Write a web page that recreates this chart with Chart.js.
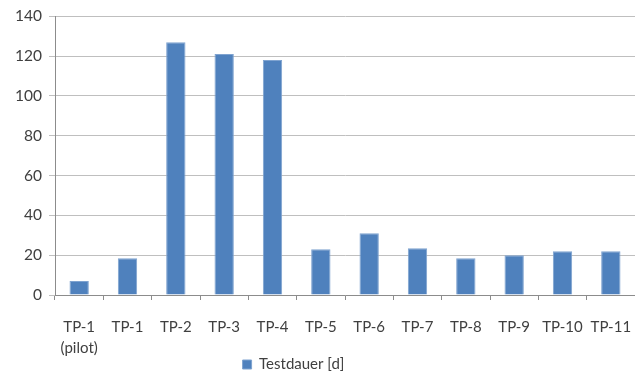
<!DOCTYPE html>
<html>
<head>
<meta charset="utf-8">
<script src="https://cdn.jsdelivr.net/npm/chart.js@4/dist/chart.umd.min.js"></script>
<style>
  html, body { margin: 0; padding: 0; background: #fff; }
  #wrap { width: 635px; height: 374px; }
</style>
</head>
<body>
<div id="wrap"><canvas id="testChart"></canvas></div>
<script>
const categories = [['TP-1', '(pilot)'], 'TP-1', 'TP-2', 'TP-3', 'TP-4', 'TP-5', 'TP-6', 'TP-7', 'TP-8', 'TP-9', 'TP-10', 'TP-11'];
const testdauer = [7, 18.5, 127, 121, 118, 23, 31, 23.5, 18.5, 20, 22, 22];
const seriesName = 'Testdauer [d]';
const yTicks = [0, 20, 40, 60, 80, 100, 120, 140];

const textColor = '#404040';
const fontFamily = 'Lato, "Open Sans", sans-serif';

// legend sits lower and a bit left of where Chart.js puts it,
// and the two-line label needs room below the axis box
const nudgeLayout = {
    id: 'nudgeLayout',
    afterLayout(chart) {
        chart.scales.x.bottom += 14;
        chart.scales.x.height += 14;
        chart.legend.top += 8;
        chart.legend.bottom += 8;
        chart.legend.left -= 24;
        chart.legend.right -= 24;
    }
};

const ctx = document.getElementById('testChart').getContext('2d');
new Chart(ctx, {
    type: 'bar',
    data: {
        labels: categories,
        datasets: [{
            label: seriesName,
            data: testdauer,
            backgroundColor: '#4F81BD',
            borderColor: '#7FA3D0',
            borderWidth: 1,
            barPercentage: 0.4,
            categoryPercentage: 1.0
        }]
    },
    options: {
        responsive: true,
        maintainAspectRatio: false,
        animation: false,
        layout: { padding: { top: 11, right: 0, left: 0, bottom: 0 } },
        scales: {
            y: {
                min: 0,
                max: 140,
                afterBuildTicks: (scale) => { scale.ticks = yTicks.map(v => ({ value: v })); },
                afterFit: (scale) => { scale.width = 55; },
                grid: { color: '#BFBFBF', lineWidth: 1, tickLength: 6, drawTicks: true },
                border: { color: '#8C8C8C' },
                ticks: { color: textColor, font: { family: fontFamily, size: 15.5 }, padding: 7 }
            },
            x: {
                afterFit: (scale) => {
                    scale.height = 51;
                    scale.paddingRight = 0;
                    scale.paddingLeft = 0;
                },
                grid: { offset: true, drawOnChartArea: false, color: '#8C8C8C', tickLength: 5 },
                border: { color: '#8C8C8C' },
                ticks: {
                    color: textColor,
                    font: { family: fontFamily, size: 15, lineHeight: 1.45 },
                    padding: 16,
                    maxRotation: 0,
                    autoSkip: false
                }
            }
        },
        plugins: {
            legend: {
                position: 'bottom',
                labels: {
                    color: textColor,
                    font: { family: fontFamily, size: 15 },
                    boxWidth: 9,
                    boxHeight: 9,
                    padding: 3
                }
            },
            tooltip: { enabled: false }
        }
    },
    plugins: [nudgeLayout]
});
</script>
</body>
</html>
